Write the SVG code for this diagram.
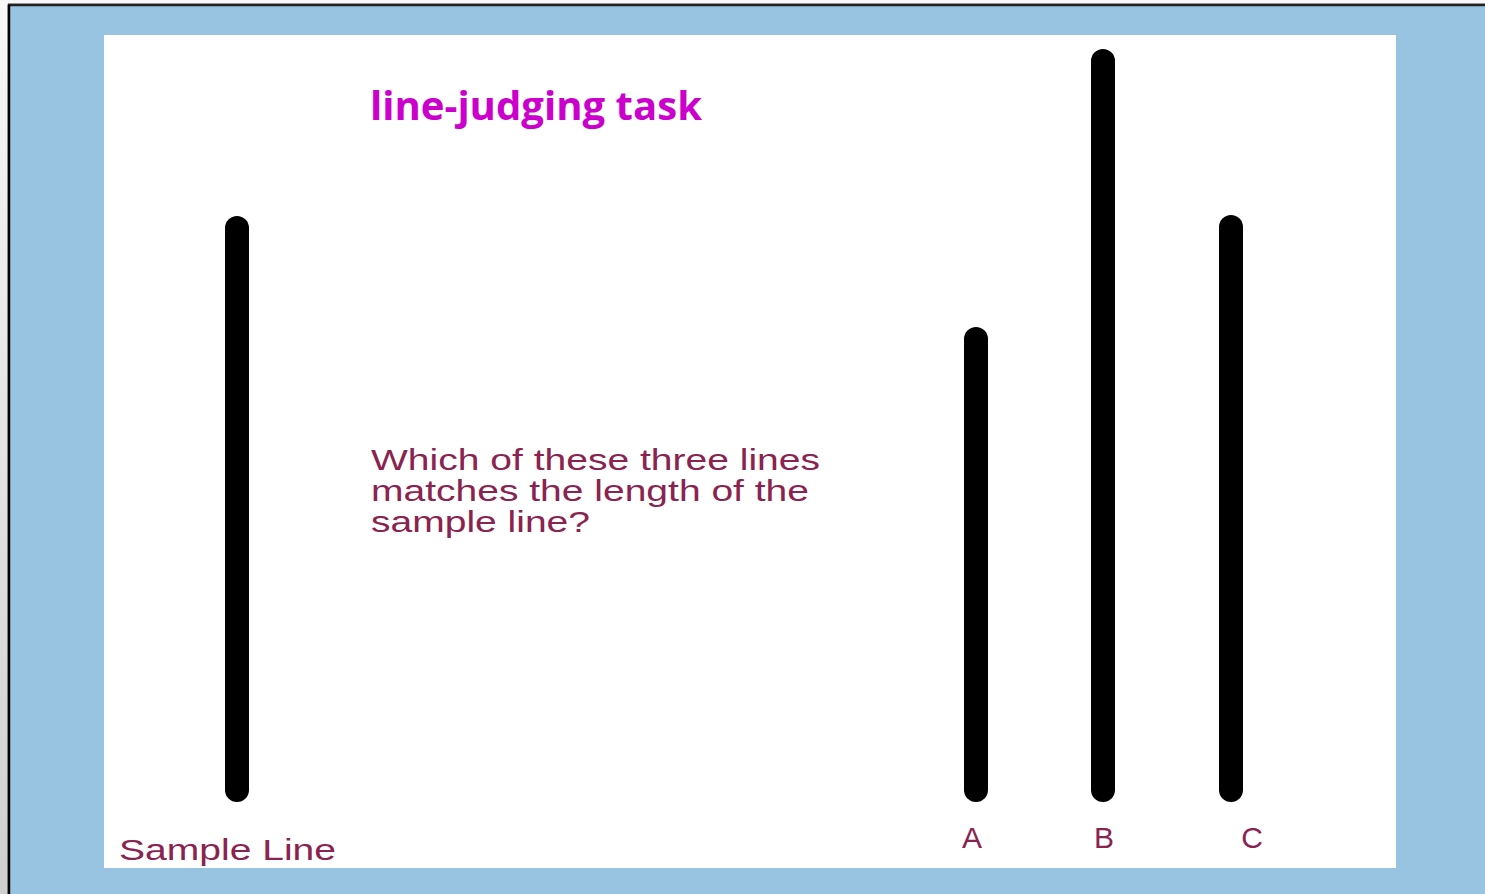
<svg xmlns="http://www.w3.org/2000/svg" width="1485" height="894" viewBox="0 0 1485 894">
<defs>
<linearGradient id="edge" x1="0" y1="0" x2="0" y2="1">
<stop offset="0" stop-color="#f8f8f8"/>
<stop offset="1" stop-color="#cfcfcf"/>
</linearGradient>
<style>
.bar{stroke:#000;stroke-width:24;stroke-linecap:round;fill:none}
.lbl{font-family:"Liberation Sans",Arial,sans-serif;fill:#8a2350;font-size:30px}
.title{font-family:"Open Sans","Liberation Sans",sans-serif;font-weight:bold;fill:#cc00cc;font-size:40px}
</style>
</defs>
<rect x="0" y="0" width="1485" height="894" fill="url(#edge)"/>
<rect x="9" y="5" width="1476" height="889" fill="#98c4e2" stroke="#111" stroke-width="2.5"/>
<rect x="9" y="5" width="1476" height="889" fill="#98c4e2"/>
<line x1="8" y1="5" x2="1485" y2="5" stroke="#222" stroke-width="2.5"/>
<line x1="9" y1="5" x2="9" y2="894" stroke="#000" stroke-width="2.5"/>
<rect x="104" y="35" width="1292" height="833" fill="#fff"/>
<g id="title"><text class="title" x="370" y="120" textLength="332" lengthAdjust="spacingAndGlyphs">line-judging task</text></g>
<g id="sample"><line class="bar" x1="237" y1="228" x2="237" y2="790"/>
<text class="lbl" x="119" y="860" textLength="217" lengthAdjust="spacingAndGlyphs">Sample Line</text></g>
<g id="question">
<text class="lbl" x="371" y="470" textLength="449" lengthAdjust="spacingAndGlyphs">Which of these three lines</text>
<text class="lbl" x="371" y="501" textLength="438" lengthAdjust="spacingAndGlyphs">matches the length of the</text>
<text class="lbl" x="371" y="532" textLength="219" lengthAdjust="spacingAndGlyphs">sample line?</text>
</g>
<g id="lineA"><line class="bar" x1="976" y1="339" x2="976" y2="790"/><text class="lbl" x="972" y="848" text-anchor="middle">A</text></g>
<g id="lineB"><line class="bar" x1="1103" y1="61" x2="1103" y2="790"/><text class="lbl" x="1104" y="848" text-anchor="middle">B</text></g>
<g id="lineC"><line class="bar" x1="1231" y1="227" x2="1231" y2="790"/><text class="lbl" x="1252" y="848" text-anchor="middle">C</text></g>
</svg>
